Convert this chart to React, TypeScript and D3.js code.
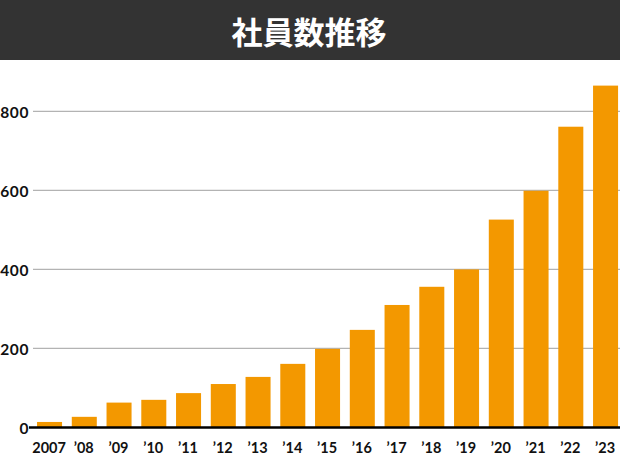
import React from "react";
import * as d3 from "d3";

const years = ["2007", "'08", "'09", "'10", "'11", "'12", "'13", "'14", "'15", "'16", "'17", "'18", "'19", "'20", "'21", "'22", "'23"];
const employees = [14, 27, 63, 70, 87, 110, 128, 161, 199, 247, 310, 356, 400, 526, 599, 761, 865];
const yTicks = [0, 200, 400, 600, 800];
const title = "社員数推移";

const W = 620;
const H = 454;

export default function App() {
  const x = d3
    .scaleBand<string>()
    .domain(years)
    .range([27.3, 627.8])
    .paddingInner(0.28)
    .paddingOuter(0.28);
  const y = d3.scaleLinear().domain([0, 800]).range([427.5, 111.3]);
  const numFont = "Lato, 'Noto Sans', sans-serif";

  return (
    <svg
      width={W}
      height={H}
      style={{ position: "absolute", left: 0, top: 0, display: "block" }}
    >
      <rect x={0} y={0} width={W} height={H} fill="#ffffff" />
      <rect x={0} y={0} width={W} height={60} fill="#333333" />
      <text
        x={309}
        y={30.5}
        textAnchor="middle"
        dominantBaseline="central"
        fill="#ffffff"
        fontSize={31}
        fontWeight={700}
        fontFamily="'Noto Sans CJK JP', sans-serif"
      >
        {title}
      </text>
      {yTicks
        .filter((t) => t !== 0)
        .map((t) => (
          <line
            key={"g" + t}
            x1={33}
            x2={W}
            y1={y(t)}
            y2={y(t)}
            stroke="#b3b3b3"
            strokeWidth={1.3}
          />
        ))}
      {yTicks.map((t) => (
        <text
          key={"yl" + t}
          x={29}
          y={y(t) + 0.5}
          textAnchor="end"
          dominantBaseline="central"
          fontSize={15.5}
          fontWeight={700}
          letterSpacing={0.6}
          fill="#111111"
          fontFamily={numFont}
        >
          {t}
        </text>
      ))}
      {employees.map((v, i) => (
        <rect
          key={"b" + i}
          x={x(years[i])}
          y={y(v)}
          width={x.bandwidth()}
          height={y(0) - y(v)}
          fill="#f39800"
        />
      ))}
      <line x1={29} x2={W} y1={y(0)} y2={y(0)} stroke="#000000" strokeWidth={2.5} />
      {years.map((yr) => (
        <text
          key={"xl" + yr}
          x={(x(yr) as number) + x.bandwidth() / 2 - 0.5}
          y={452.5}
          textAnchor="middle"
          fontSize={14.5}
          fontWeight={700}
          fill="#111111"
          fontFamily={numFont}
        >
          {yr.replace("'", "’")}
        </text>
      ))}
    </svg>
  );
}
